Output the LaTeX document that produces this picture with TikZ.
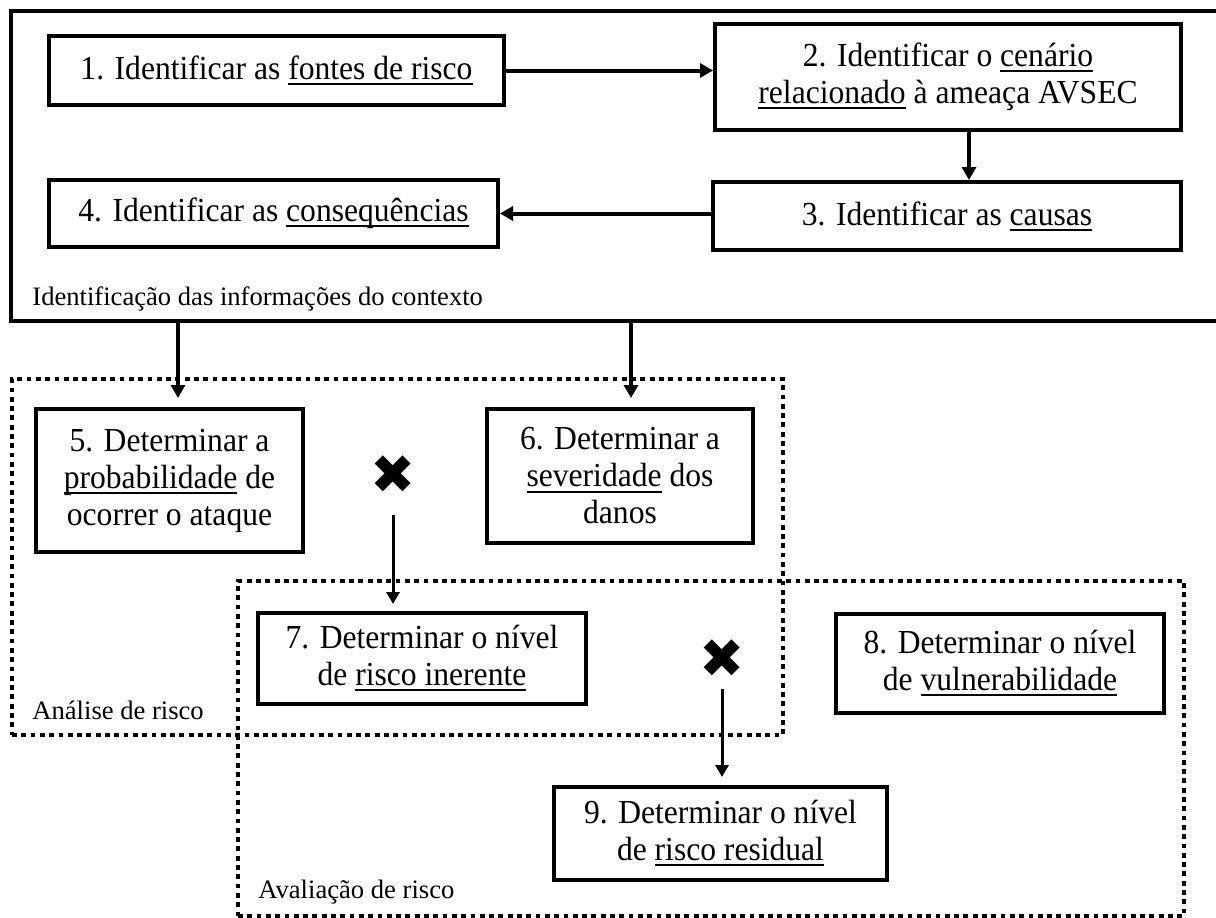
\documentclass[tikz,border=0pt]{standalone}
\usepackage{fontspec}
\setmainfont{Liberation Serif}
\newfontfamily\boxfont[FakeStretch=0.94]{Liberation Serif}
\newfontfamily\crossfont{DejaVu Sans}
\usetikzlibrary{arrows.meta}
\newcommand{\ulword}[1]{\leavevmode\setbox0\hbox{#1}\rlap{\rule[-2.8pt]{\wd0}{1pt}}\box0\relax}

\begin{document}
\begin{tikzpicture}[x=0.5pt,y=-0.5pt,
  stage/.style={draw,line width=2pt,fill=white,align=center,inner sep=0pt,
    font=\boxfont\fontsize{16.8}{18.5}\selectfont},
  frame/.style={draw,line width=2pt,inner sep=0pt},
  dotframe/.style={draw,line width=2pt,inner sep=0pt,dash pattern=on 2.4pt off 2.25pt},
  grouplabel/.style={anchor=base west,inner sep=0pt,font=\fontsize{13.3}{15}\selectfont},
  cross/.style={inner sep=0pt,font=\crossfont\fontsize{27}{27}\selectfont},
  flow/.style={line width=2pt,-{Triangle[length=6.5pt,width=7pt]}},
  product/.style={line width=1.5pt,-{Triangle[length=6pt,width=6.5pt]}}]
\useasboundingbox (0,0) rectangle (1216,917);

\node[frame,minimum width=606.5pt,minimum height=155pt] (ctx) at (617.5,166) {};
\node[dotframe,minimum width=385.5pt,minimum height=178pt] (ana) at (397.5,557) {};
\node[dotframe,minimum width=473pt,minimum height=167.5pt] (ava) at (711,748.5) {};

\node[stage,minimum width=227.5pt,minimum height=34.5pt] (fontes) at (276.5,70.5)
  {1. Identificar as \ulword{fontes de risco}};
\node[stage,minimum width=233pt,minimum height=53pt] (cenario) at (948,77)
  {2. Identificar o \ulword{cenário}\\\ulword{relacionado} à ameaça AVSEC};
\node[stage,minimum width=234pt,minimum height=34pt] (causas) at (947,216)
  {3. Identificar as \ulword{causas}};
\node[stage,minimum width=224.5pt,minimum height=33.5pt] (conseq) at (273.5,213.5)
  {4. Identificar as \ulword{consequências}};
\node[grouplabel] (ctxlabel) at (32,305) {Identificação das informações do contexto};

\node[stage,minimum width=133.5pt,minimum height=71.5pt] (prob) at (169.5,480.5)
  {5. Determinar a\\\ulword{probabilidade} de\\ocorrer o ataque};
\node[stage,minimum width=133pt,minimum height=67pt] (sever) at (620,476)
  {6. Determinar a\\\ulword{severidade} dos\\danos};
\node[cross] (x1) at (393,475) {✖};
\node[stage,minimum width=164pt,minimum height=45.5pt] (inerente) at (422,658.5)
  {7. Determinar o nível\\de \ulword{risco inerente}};
\node[grouplabel] (analabel) at (32,719) {Análise de risco};

\node[stage,minimum width=164pt,minimum height=49.5pt] (vulner) at (1000,663.5)
  {8. Determinar o nível\\de \ulword{vulnerabilidade}};
\node[cross] (x2) at (722,659) {✖};
\node[stage,minimum width=166.5pt,minimum height=46.5pt] (residual) at (720.5,833.5)
  {9. Determinar o nível\\de \ulword{risco residual}};
\node[grouplabel] (avalabel) at (258,898) {Avaliação de risco};

\draw[flow] (fontes.east) -- (fontes.east -| cenario.west);
\draw[flow] ([xshift=10.5pt]cenario.south) -- ([xshift=10.5pt]cenario.south |- causas.north);
\draw[flow] (causas.west |- conseq.east) -- (conseq.east);
\draw[flow,shorten >=4.5pt] ([xshift=4.25pt]prob.north |- ctx.south) -- ([xshift=4.25pt]prob.north);
\draw[flow,shorten >=4.5pt] ([xshift=5.5pt]sever.north |- ctx.south) -- ([xshift=5.5pt]sever.north);
\draw[product,shorten >=3.5pt] ([yshift=-20pt]x1.center) -- (x1 |- inerente.north);
\draw[product,shorten >=4pt] ([yshift=-15pt]x2.center) -- (x2 |- residual.north);
\end{tikzpicture}
\end{document}
